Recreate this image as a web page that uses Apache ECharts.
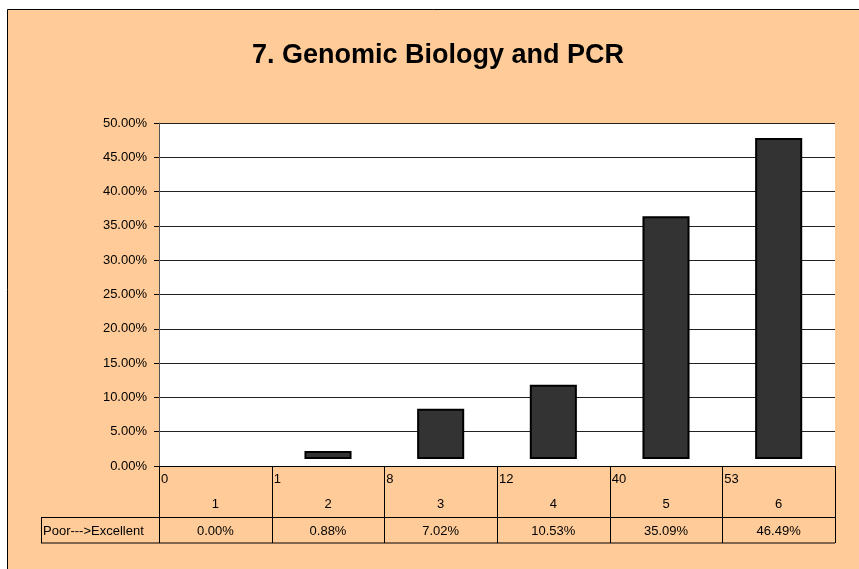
<!DOCTYPE html>
<html lang="en">
<head>
    <meta charset="UTF-8">
    <title>7. Genomic Biology and PCR</title>
    <script src="https://cdn.jsdelivr.net/npm/echarts@6/dist/echarts.min.js"></script>
    <style>
        html, body { margin: 0; padding: 0; background: #fff; }
    </style>
</head>
<body>
<div id="main" style="width: 859px;height:569px;"></div>
<script>
    // values
    let categories = ['1', '2', '3', '4', '5', '6'];
    let counts = [0, 1, 8, 12, 40, 53];
    let percents = [0.00, 0.88, 7.02, 10.53, 35.09, 46.49];
    let rowTitle = 'Poor--->Excellent';

    var myChart = echarts.init(document.getElementById('main'));
    const font = 'Liberation Sans, Arial, sans-serif';
    const lift = 8; // excel draws the bars a little above the axis

    let option = {
        backgroundColor: '#fff',
        animation: false,
        title: {
            text: '7. Genomic Biology and PCR',
            left: 433,
            textAlign: 'center',
            top: 37,
            textStyle: { fontFamily: font, fontSize: 27, fontWeight: 'bold', color: '#000' }
        },
        grid: {
            left: 159, right: 24, top: 123, bottom: 103,
            show: true, backgroundColor: '#fff', borderWidth: 0
        },
        xAxis: {
            type: 'category',
            data: categories,
            axisLine: { lineStyle: { color: '#000', width: 1 } },
            axisTick: { show: false },
            axisLabel: { show: false }
        },
        yAxis: {
            type: 'value',
            min: 0, max: 50, interval: 5,
            axisLine: { show: true, lineStyle: { color: '#555' } },
            axisTick: { show: true, length: 5, lineStyle: { color: '#000' } },
            axisLabel: {
                margin: 12,
                fontFamily: font, fontSize: 13, color: '#000',
                formatter: v => v.toFixed(2) + '%'
            },
            splitLine: { lineStyle: { color: '#222', width: 1 } }
        },
        series: [{
            type: 'custom',
            data: percents.map((v, i) => [i, v]),
            renderItem: function (params, api) {
                let v = api.value(1);
                if (!v) return null;
                let base = api.coord([api.value(0), 0]);
                let top = api.coord([api.value(0), v]);
                let w = api.size([1, 0])[0] * 0.4;
                return {
                    type: 'rect',
                    shape: { x: base[0] - w / 2, y: top[1] - lift, width: w, height: base[1] - top[1] },
                    style: { fill: '#333333', stroke: '#000', lineWidth: 2 }
                };
            }
        }]
    };
    myChart.setOption(option);

    // data table under the axis
    let graphics = [{
        type: 'rect', z: -10, silent: true,
        shape: { x: 7.5, y: 9.5, width: 900, height: 600 },
        style: { fill: '#FFCC99', stroke: '#000', lineWidth: 1 }
    }];
    let y0 = myChart.convertToPixel({ yAxisIndex: 0 }, 0);
    let left = myChart.convertToPixel({ xAxisIndex: 0 }, 0);
    let step = myChart.convertToPixel({ xAxisIndex: 0 }, 1) - left;
    let x0 = left - step / 2;
    let xEnd = x0 + step * categories.length;
    let rowMid = y0 + 51.5, rowEnd = y0 + 77;
    let line = (x1, y1, x2, y2) => ({
        type: 'line', silent: true,
        shape: { x1: x1, y1: y1, x2: x2, y2: y2 },
        style: { stroke: '#000', lineWidth: 1 }
    });
    let text = (t, x, y, align) => ({
        type: 'text', silent: true,
        style: { text: t, x: x, y: y, align: align, verticalAlign: 'middle', font: '13px ' + font, fill: '#000' }
    });
    for (let k = 0; k <= categories.length; k++) {
        let x = Math.round(x0 + k * step) + 0.5;
        graphics.push(line(x, y0, x, rowEnd));
    }
    graphics.push(line(41, rowMid, xEnd, rowMid));
    graphics.push(line(41, rowEnd, xEnd, rowEnd));
    graphics.push(line(41.5, rowMid, 41.5, rowEnd));
    graphics.push(text(rowTitle, 43, (rowMid + rowEnd) / 2 + 1, 'left'));
    for (let i = 0; i < categories.length; i++) {
        let cx = x0 + (i + 0.5) * step;
        graphics.push(text(String(counts[i]), x0 + i * step + 2, y0 + 13, 'left'));
        graphics.push(text(categories[i], cx, y0 + 38, 'center'));
        graphics.push(text(percents[i].toFixed(2) + '%', cx, (rowMid + rowEnd) / 2 + 1, 'center'));
    }
    myChart.setOption({ graphic: graphics });
</script>
</body>
</html>
